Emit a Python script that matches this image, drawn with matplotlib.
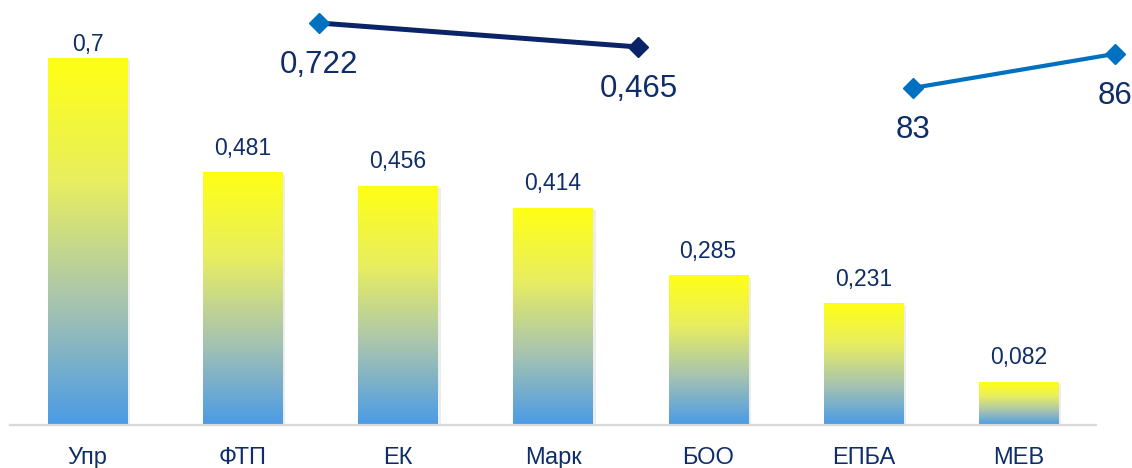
"""Столбцы с градиентом и две линии-индикатора."""

import matplotlib

matplotlib.use("Agg")
import matplotlib.pyplot as plt
import numpy as np
from matplotlib.colors import LinearSegmentedColormap

plt.rcParams["font.family"] = ["Liberation Sans", "DejaVu Sans"]

categories = ["Упр", "ФТП", "ЕК", "Марк", "БОО", "ЕПБА", "МЕВ"]
values = [0.7, 0.481, 0.456, 0.414, 0.285, 0.231, 0.082]
value_labels = ["0,7", "0,481", "0,456", "0,414", "0,285", "0,231", "0,082"]

# линии расположены между категориями (позиции в единицах категорий)
navy_x = [1.49, 3.55]
navy_y = [0.722, 0.465]
navy_labels = ["0,722", "0,465"]
blue_x = [5.32, 6.62]
blue_y = [83, 86]
blue_labels = ["83", "86"]

TEXT = "#0F2D69"
NAVY = "#0B2468"
BLUE = "#0070C0"

cmap = LinearSegmentedColormap.from_list(
    "yb", ["#4A9BE6", "#A8C4B0", "#E8EE60", "#FFFF14"]
)
grad = np.linspace(0, 1, 256).reshape(-1, 1)

fig = plt.figure(figsize=(11.32, 4.68), dpi=100)
ax = fig.add_axes([10 / 1132, 43 / 468, 1086 / 1132, 425 / 468])
x = np.arange(len(categories))
width = 0.51
y_top = 0.811

for xi, v, lab in zip(x, values, value_labels):
    # мягкая тень
    ax.bar(xi + 0.02, v, width, bottom=-0.004, color="#000000", alpha=0.07, zorder=1)
    ax.imshow(grad, extent=(xi - width / 2, xi + width / 2, 0, v), origin="lower",
              cmap=cmap, aspect="auto", zorder=2)
    # подпись над столбцом, не выше верхнего края области
    ax.text(xi, min(v + 0.046, y_top - 0.084), lab, ha="center", va="center",
            fontsize=16.5, color=TEXT)

ax.set_xlim(-0.5, len(categories) - 0.5)
ax.set_ylim(0, y_top)
ax.set_xticks(x, categories, fontsize=17, color=TEXT)
ax.tick_params(axis="x", length=0, pad=16)
ax.set_yticks([])
for s in ["top", "left", "right"]:
    ax.spines[s].set_visible(False)
ax.spines["bottom"].set_color("#D9D9D9")
ax.spines["bottom"].set_linewidth(1.6)
ax.spines["bottom"].set_zorder(3)
ax.patch.set_visible(False)

ax2 = ax.twinx()
ax2.set_ylim(-3.582, 0.968)
ax2.plot(navy_x, navy_y, color=NAVY, lw=3.6, clip_on=False, zorder=3)
ax2.plot(navy_x[:1], navy_y[:1], "D", color=BLUE, ms=10, clip_on=False, zorder=4)
ax2.plot(navy_x[1:], navy_y[1:], "D", color=NAVY, ms=10, clip_on=False, zorder=4)
for xi, v, lab in zip(navy_x, navy_y, navy_labels):
    ax2.annotate(lab, (xi, v), xytext=(0, -30), textcoords="offset points",
                 ha="center", va="center", fontsize=22.5, color=TEXT, annotation_clip=False)

ax3 = ax.twinx()
ax3.set_ylim(53.26, 90.76)
ax3.plot(blue_x, blue_y, color=BLUE, lw=3.0, marker="D", ms=10, clip_on=False, zorder=3)
for xi, v, lab in zip(blue_x, blue_y, blue_labels):
    ax3.annotate(lab, (xi, v), xytext=(0, -30), textcoords="offset points",
                 ha="center", va="center", fontsize=22.5, color=TEXT, annotation_clip=False)

for a in (ax2, ax3):
    a.set_yticks([])
    a.axis("off")

fig.savefig("out.png", dpi=100)
plt.close(fig)
